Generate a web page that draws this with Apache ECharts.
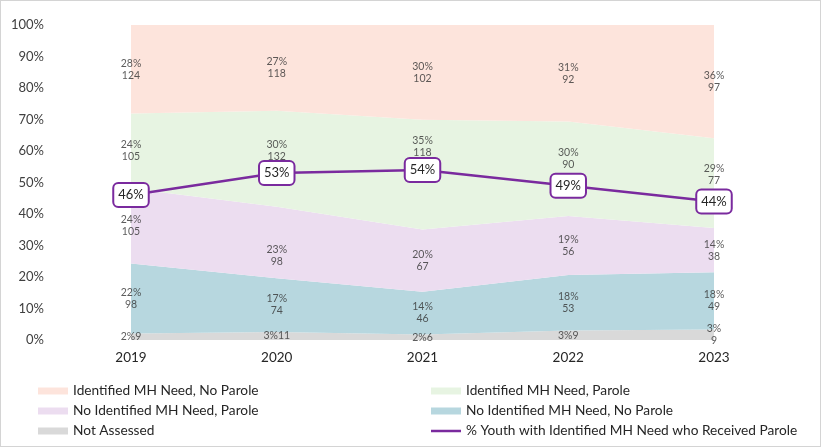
<!DOCTYPE html>
<html>
<head>
<meta charset="utf-8">
<script src="https://cdn.jsdelivr.net/npm/echarts@6/dist/echarts.min.js"></script>
<style>
  html, body { margin: 0; padding: 0; background: #fff; }
  #frame { width: 821px; height: 447px; box-sizing: border-box; border: 1px solid #d4d4d4; position: relative; overflow: hidden; }
  #chart { position: absolute; left: -1px; top: -1px; width: 821px; height: 447px; }
</style>
</head>
<body>
<div id="frame"><div id="chart"></div></div>
<script>
// ---- data ----
const years = ['2019', '2020', '2021', '2022', '2023'];
const notAssessed   = [9, 11, 6, 9, 9];
const noMHNoParole  = [98, 74, 46, 53, 49];
const noMHParole    = [105, 98, 67, 56, 38];
const mhParole      = [105, 132, 118, 90, 77];
const mhNoParole    = [124, 118, 102, 92, 97];
const paroleRate    = [46, 53, 54, 49, 44];   // % youth with identified MH need who received parole
const yTicks        = [0, 10, 20, 30, 40, 50, 60, 70, 80, 90, 100];

// ---- styling ----
const FONT = 'Lato';
const bands = [
  { name: 'Not Assessed',                     counts: notAssessed,  color: '#d9d9d9' },
  { name: 'No Identified MH Need, No Parole', counts: noMHNoParole, color: '#b7d7df' },
  { name: 'No Identified MH Need, Parole',    counts: noMHParole,   color: '#ecddf0' },
  { name: 'Identified MH Need, Parole',       counts: mhParole,     color: '#e7f4e2' },
  { name: 'Identified MH Need, No Parole',    counts: mhNoParole,   color: '#fde4dc' }
];
const lineName = '% Youth with Identified MH Need who Received Parole';
const lineColor = '#7a2a9e';
// manual vertical nudges (px) of band labels, as in the original layout
const labelNudge = {
  'Identified MH Need, Parole':    [0, -8, -28, -10, -8],
  'No Identified MH Need, Parole': [0, 13, 0, 0, 0]
};
const naInline = [true, true, true, true, false];

const totals = years.map((_, i) => bands.reduce((s, b) => s + b.counts[i], 0));

const series = [];
const base = years.map(() => 0);
bands.forEach((b, bi) => {
  const shares = b.counts.map((c, i) => c / totals[i] * 100);
  series.push({
    name: b.name,
    type: 'line',
    stack: 'total',
    symbol: 'none',
    lineStyle: { width: 0, color: b.color },
    itemStyle: { color: b.color },
    areaStyle: { color: b.color, opacity: 1 },
    emphasis: { disabled: true },
    data: shares,
    z: 1
  });
  const labelData = shares.map((s, i) => {
    const mid = base[i] + s / 2;
    const pct = Math.round(s);
    const text = (bi === 0 && naInline[i]) ? (pct + '%' + b.counts[i]) : (pct + '%\n' + b.counts[i]);
    const nudge = (labelNudge[b.name] || [0, 0, 0, 0, 0])[i];
    return { value: [i, mid], label: { formatter: text, offset: [0, nudge] } };
  });
  shares.forEach((s, i) => { base[i] += s; });
  series.push({
    name: b.name + ' labels',
    type: 'scatter',
    symbolSize: 0,
    silent: true,
    z: 3,
    label: {
      show: true, position: 'inside', fontFamily: FONT, fontSize: 10.5,
      lineHeight: 12, color: '#333333', align: 'center'
    },
    data: labelData
  });
});

series.push({
  name: lineName,
  type: 'line',
  symbol: 'circle',
  symbolSize: 0,
  showSymbol: true,
  z: 5,
  lineStyle: { width: 2.5, color: lineColor },
  itemStyle: { color: lineColor },
  label: {
    show: true, position: 'inside', formatter: '{c}%',
    fontFamily: FONT, fontSize: 13, color: '#262626',
    backgroundColor: '#ffffff', borderColor: lineColor, borderWidth: 2,
    borderRadius: 4, padding: [5, 4, 4, 4]
  },
  data: paroleRate
});

const legendCommon = {
  orient: 'vertical', top: 384, padding: 0, itemWidth: 30, itemHeight: 7, itemGap: 6, icon: 'rect',
  textStyle: { fontFamily: FONT, fontSize: 13.7, color: '#262626' },
  selectedMode: false
};

const chart = echarts.init(document.getElementById('chart'), null, { renderer: 'canvas' });
chart.setOption({
  animation: false,
  backgroundColor: 'transparent',
  grid: { left: 131, right: 107, top: 25, bottom: 107, containLabel: false },
  xAxis: {
    type: 'category', data: years, boundaryGap: false,
    axisLine: { show: false }, axisTick: { show: false },
    axisLabel: { fontFamily: FONT, fontSize: 13.5, color: '#262626', margin: 11 }
  },
  yAxis: {
    type: 'value', min: yTicks[0], max: yTicks[yTicks.length - 1], interval: yTicks[1] - yTicks[0],
    axisLine: { show: false }, axisTick: { show: false }, splitLine: { show: false },
    axisLabel: { formatter: '{value}%', fontFamily: FONT, fontSize: 13, color: '#404040', margin: 87 }
  },
  legend: [
    Object.assign({}, legendCommon, {
      left: 38,
      data: ['Identified MH Need, No Parole', 'No Identified MH Need, Parole', 'Not Assessed']
    }),
    Object.assign({}, legendCommon, {
      left: 431,
      data: ['Identified MH Need, Parole', 'No Identified MH Need, No Parole',
             { name: lineName, icon: 'path://M0,0 L30,0 L30,2.5 L0,2.5 Z' }]
    })
  ],
  series: series
});
</script>
</body>
</html>
